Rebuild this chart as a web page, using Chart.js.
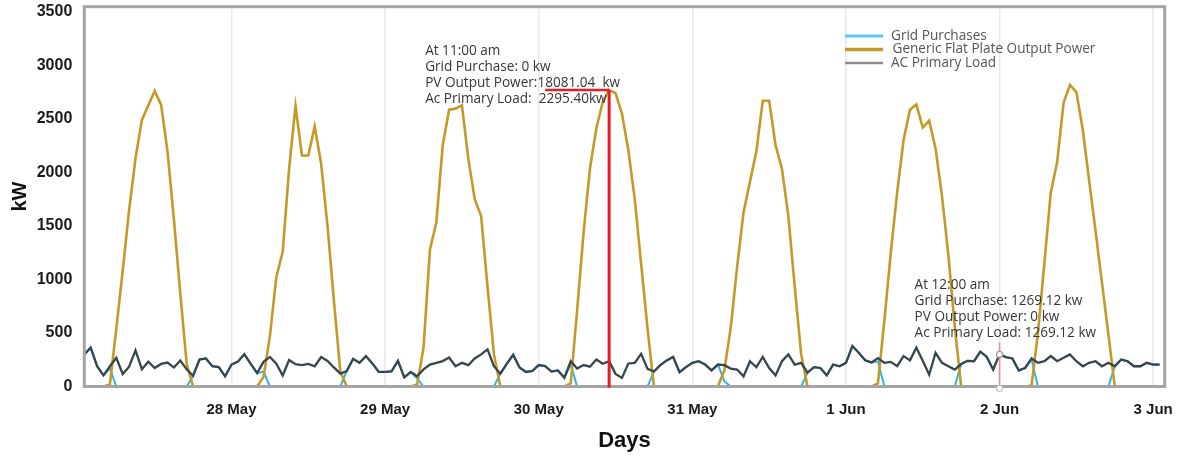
<!DOCTYPE html>
<html>
<head>
<meta charset="utf-8">
<script src="https://cdn.jsdelivr.net/npm/chart.js@4.4.1/dist/chart.umd.min.js"></script>
<style>
  html, body { margin: 0; padding: 0; background: #fff; }
  #wrap { width: 1177px; height: 456px; position: relative; }
</style>
</head>
<body>
<div id="wrap"><canvas id="c" width="1177" height="456"></canvas></div>
<script>
// Hourly values, 27 May 01:00 to 3 Jun 01:00 (one row per day, kW)
const firstHour = 1; // hours counted from 27 May 00:00

const acPrimaryLoad = [
  300,363,190,104,189,268,117,185,338,162,232,173,211,224,177,243,160,100,252,262,189,182,95,
  205,232,302,212,126,230,276,214,103,248,208,199,211,189,275,239,178,121,145,257,221,284,216,136,
  136,142,240,85,135,95,160,205,220,237,270,189,221,199,262,300,347,189,120,211,296,178,136,145,
  200,190,140,150,82,236,167,200,185,252,212,236,118,80,215,221,306,165,140,200,244,276,134,181,
  221,236,205,150,205,199,167,158,95,236,180,276,173,104,236,299,205,221,130,180,173,104,205,189,
  221,378,315,245,225,265,221,230,190,284,244,363,240,110,315,221,190,158,210,240,236,325,276,158,
  300,274,262,150,173,262,221,236,284,236,268,300,236,189,221,236,189,221,189,252,236,189,189,221,
  205,205
];

const pvOutput = [
  0,0,0,0,20,540,1080,1650,2130,2490,2625,2760,2630,2195,1560,870,208,0,0,0,0,0,0,
  0,0,0,0,0,90,470,1022,1258,2034,2620,2157,2157,2431,2081,1500,800,142,0,0,0,0,0,0,
  0,0,0,0,0,20,362,1277,1532,2254,2585,2595,2627,2128,1750,1592,930,302,0,0,0,0,0,0,
  0,0,0,0,0,30,710,1435,2034,2412,2658,2770,2740,2550,2207,1750,1145,540,0,0,0,0,0,0,
  0,0,0,0,0,150,550,1120,1627,1911,2195,2668,2668,2254,2034,1592,930,302,0,0,0,0,0,0,
  0,0,0,0,0,30,615,1245,1813,2302,2585,2633,2419,2482,2223,1780,1230,560,0,0,0,0,0,0,
  0,0,0,0,0,10,500,1150,1813,2097,2649,2816,2750,2400,1920,1450,970,490,0,0,0,0,0,0,
  0,0
];

const gridPurchases = [
  300,363,190,104,169,0,0,0,0,0,0,0,0,0,0,0,0,100,252,262,189,182,95,
  205,232,302,212,126,140,0,0,0,0,0,0,0,0,0,0,0,0,145,257,221,284,216,136,
  136,142,240,85,135,75,0,0,0,0,0,0,0,0,0,0,0,0,120,211,296,178,136,145,
  200,190,140,150,82,206,0,0,0,0,0,0,0,0,0,0,0,0,140,200,244,276,134,181,
  221,236,205,150,205,49,0,0,0,0,0,0,0,0,0,0,0,0,130,180,173,104,205,189,
  221,378,315,245,225,235,0,0,0,0,0,0,0,0,0,0,0,0,210,240,236,325,276,158,
  300,274,262,150,173,252,0,0,0,0,0,0,0,0,0,0,0,0,189,252,236,189,189,221,
  205,205
];

// Midnight ticks on the time axis
const dayTickHours = [24, 48, 72, 96, 120, 144, 168];
const dayLabels = ['28 May', '29 May', '30 May', '31 May', '1 Jun', '2 Jun', '3 Jun'];
const kwTicks = [0, 500, 1000, 1500, 2000, 2500, 3000, 3500];

const seriesNames = ['Grid Purchases', 'Generic Flat Plate Output Power', 'AC Primary Load'];

// Read-outs pinned to two moments
const peakHour = 83;       // 30 May 11:00
const peakArmFrom = 73;
const peakNote = ['At 11:00 am', 'Grid Purchase: 0 kw', 'PV Output Power:18081.04  kw', 'Ac Primary Load:  2295.40kw'];
const midnightHour = 144;  // 2 Jun 00:00
const midnightNote = ['At 12:00 am', 'Grid Purchase: 1269.12 kw', 'PV Output Power: 0 kw', 'Ac Primary Load: 1269.12 kw'];

const COLORS = { grid: '#2fb3e6', pv: '#c39a28', load: '#37464c' };
const LEGEND_COLORS = ['#5cc6f0', '#c39a28', '#8b8b8b'];
const NOTE_FONT = '13.6px "Open Sans", sans-serif';

const hours = acPrimaryLoad.map((_, i) => firstHour + i);
const toPoints = arr => arr.map((v, i) => ({ x: hours[i], y: v }));

const decor = {
  id: 'decor',
  beforeDraw(chart) {
    const ctx = chart.ctx;
    ctx.save();
    ctx.fillStyle = '#ffffff';
    ctx.fillRect(0, 0, chart.width, chart.height);
    ctx.restore();
  },
  afterDatasetsDraw(chart) {
    const { ctx, chartArea: a, scales: { x, y } } = chart;
    ctx.save();

    // frame around the plot
    ctx.strokeStyle = '#a4a4a4';
    ctx.lineWidth = 3;
    ctx.strokeRect(a.left, a.top, a.right - a.left, a.bottom - a.top);

    // 30 May 11:00 marker at the PV value
    const pvIdx = hours.indexOf(peakHour);
    const px = x.getPixelForValue(peakHour);
    const py = y.getPixelForValue(pvOutput[pvIdx]);
    const y0 = y.getPixelForValue(0);
    ctx.strokeStyle = '#ea1b24';
    ctx.lineWidth = 2.5;
    ctx.beginPath();
    ctx.moveTo(x.getPixelForValue(peakArmFrom), py);
    ctx.lineTo(px, py);
    ctx.stroke();
    ctx.lineWidth = 3;
    ctx.beginPath();
    ctx.moveTo(px, py);
    ctx.lineTo(px, y0 + 1);
    ctx.stroke();

    // 2 Jun 00:00 marker at the load value
    const mIdx = hours.indexOf(midnightHour);
    const mx = x.getPixelForValue(midnightHour);
    const my = y.getPixelForValue(acPrimaryLoad[mIdx]);
    ctx.strokeStyle = '#f08c94';
    ctx.lineWidth = 1.5;
    ctx.beginPath();
    ctx.moveTo(mx, my - 12);
    ctx.lineTo(mx, y0 + 1);
    ctx.stroke();
    ctx.strokeStyle = '#9a9a9a';
    ctx.lineWidth = 1.2;
    ctx.fillStyle = '#ffffff';
    ctx.beginPath();
    ctx.arc(mx, my, 3, 0, Math.PI * 2);
    ctx.fill();
    ctx.stroke();
    ctx.strokeStyle = '#c8c8c8';
    ctx.beginPath();
    ctx.arc(mx, y0 + 2, 3, 0, Math.PI * 2);
    ctx.fill();
    ctx.stroke();

    // read-out texts
    ctx.font = NOTE_FONT;
    ctx.fillStyle = '#363636';
    ctx.textAlign = 'left';
    ctx.textBaseline = 'middle';
    peakNote.forEach((t, i) => ctx.fillText(t, px - 184, py - 39 + i * 16));
    midnightNote.forEach((t, i) => ctx.fillText(t, mx - 85, my - 69 + i * 15.8));

    // legend
    const lx = 845, rows = [36, 49.5, 63], widths = [3, 3.5, 2.5];
    seriesNames.forEach((name, i) => {
      ctx.strokeStyle = LEGEND_COLORS[i];
      ctx.lineWidth = widths[i];
      ctx.beginPath();
      ctx.moveTo(lx, rows[i]);
      ctx.lineTo(lx + 38, rows[i]);
      ctx.stroke();
      ctx.fillStyle = '#555555';
      ctx.fillText(name, lx + 46 + (i === 1 ? 1.5 : 0), rows[i]);
    });

    ctx.restore();
  }
};

new Chart(document.getElementById('c'), {
  type: 'line',
  data: {
    datasets: [
      { label: seriesNames[0], data: toPoints(gridPurchases), borderColor: COLORS.grid, borderWidth: 2, order: 3 },
      { label: seriesNames[1], data: toPoints(pvOutput), borderColor: COLORS.pv, borderWidth: 2.6, order: 2 },
      { label: seriesNames[2], data: toPoints(acPrimaryLoad), borderColor: COLORS.load, borderWidth: 2.3, order: 1 }
    ]
  },
  options: {
    responsive: false,
    animation: false,
    devicePixelRatio: 1,
    layout: { padding: { left: 0, top: 6.7, right: 12.3, bottom: 0 } },
    elements: { line: { tension: 0, fill: false }, point: { radius: 0, hoverRadius: 0 } },
    plugins: { legend: { display: false }, tooltip: { enabled: false } },
    scales: {
      x: {
        type: 'linear',
        min: 1,
        max: 169.8,
        afterBuildTicks: s => { s.ticks = dayTickHours.map(v => ({ value: v })); },
        afterFit: s => { s.height = 69.5; s.paddingLeft = 0; s.paddingRight = 0; },
        ticks: {
          autoSkip: false, maxRotation: 0, padding: 14,
          color: '#1a1a1a',
          font: { family: '"Liberation Sans", Arial, sans-serif', size: 15, weight: 'bold' },
          callback: v => dayLabels[dayTickHours.indexOf(v)]
        },
        grid: { color: '#e8e8e8', lineWidth: 1.5, drawTicks: false },
        border: { display: false },
        title: {
          display: true, text: 'Days', color: '#111',
          font: { family: '"Liberation Sans", Arial, sans-serif', size: 22, weight: 'bold' },
          padding: { top: 0, bottom: 2 }
        }
      },
      y: {
        min: 0,
        max: 3547,
        afterBuildTicks: s => { s.ticks = kwTicks.map(v => ({ value: v })); },
        afterFit: s => { s.width = 84.3; s.paddingTop = 0; s.paddingBottom = 0; },
        ticks: {
          padding: 4, color: '#1a1a1a',
          font: { family: '"Liberation Sans", Arial, sans-serif', size: 16, weight: 'bold' },
          callback: v => String(v)
        },
        grid: { display: false },
        border: { display: false },
        title: {
          display: true, text: 'kW', color: '#111',
          font: { family: '"Liberation Sans", Arial, sans-serif', size: 20, weight: 'bold' },
          padding: { top: 8, bottom: 0 }
        }
      }
    }
  },
  plugins: [decor]
});
</script>
</body>
</html>
